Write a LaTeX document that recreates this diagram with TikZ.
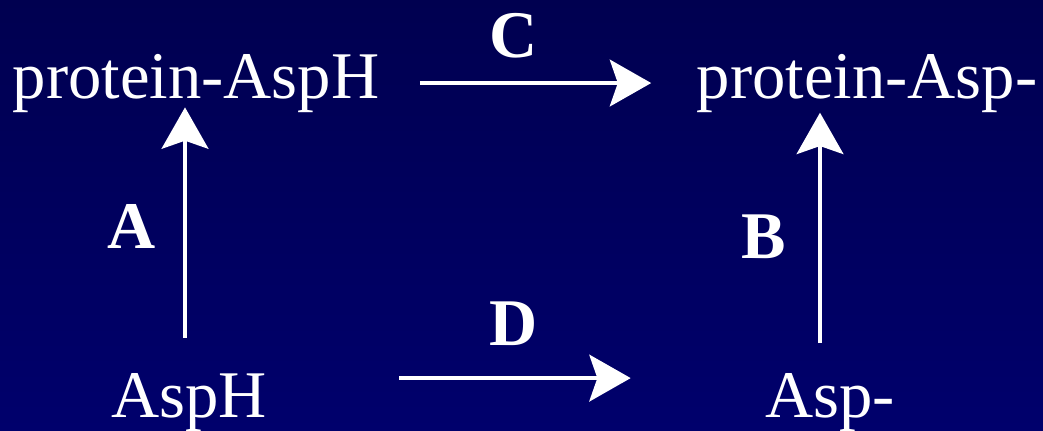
\documentclass[tikz,border=0pt]{standalone}
\usepackage{fontspec}
\setmainfont{Liberation Serif}
\usetikzlibrary{arrows.meta}

\definecolor{bgtop}{RGB}{0,0,80}
\definecolor{bgbot}{RGB}{0,0,108}

\tikzset{every picture/.style={line width=0.75pt}}
\tikzset{
  chem/.style={inner sep=0pt, anchor=base, text=white, font=\fontsize{50}{60}\selectfont},
  lbl/.style={inner sep=0pt, anchor=base, text=white, font=\fontsize{50}{60}\selectfont\bfseries},
  arr/.style={draw=white, line width=3.2pt, -{Stealth[length=31pt,width=35pt,inset=6pt]}}
}

\begin{document}
\begin{tikzpicture}[x=0.75pt,y=0.75pt,yscale=-1,xscale=1]
\useasboundingbox (0,0) rectangle (1043,430);
%Background
\shade [top color=bgtop, bottom color=bgbot] (0,0) rectangle (1043,430);

% Text Node
\node [chem] (pAspH) at (196,98) {protein-AspH};
% Text Node
\node [chem] (pAsp) at (867,98) {protein-Asp-};
% Text Node
\node [chem] (AspH) at (189,417) {AspH};
% Text Node
\node [chem] (Asp) at (830,417) {Asp-};

% Text Node
\node [lbl] (lblC) at (514,57) {C};
% Text Node
\node [lbl] (lblD) at (514,345) {D};
% Text Node
\node [lbl] (lblA) at (132,248) {A};
% Text Node
\node [lbl] (lblB) at (764,258) {B};

%Straight Lines
\draw [arr, shorten <=30pt, shorten >=33.75pt] (pAspH.east) -- (pAsp.west);
%Straight Lines
\draw [arr, shorten <=99pt, shorten >=100.5pt] ([yshift=-18pt]AspH.east) -- ([yshift=-18pt]Asp.west);
%Straight Lines
\draw [arr, shorten <=26pt, shorten >=-4pt] ([xshift=-3pt]AspH.north) -- ([xshift=-3pt]AspH.north |- pAspH.south);
%Straight Lines
\draw [arr, shorten <=22pt, shorten >=0pt] ([xshift=-7.5pt]Asp.north) -- ([xshift=-7.5pt]Asp.north |- pAsp.south);

\end{tikzpicture}
\end{document}
